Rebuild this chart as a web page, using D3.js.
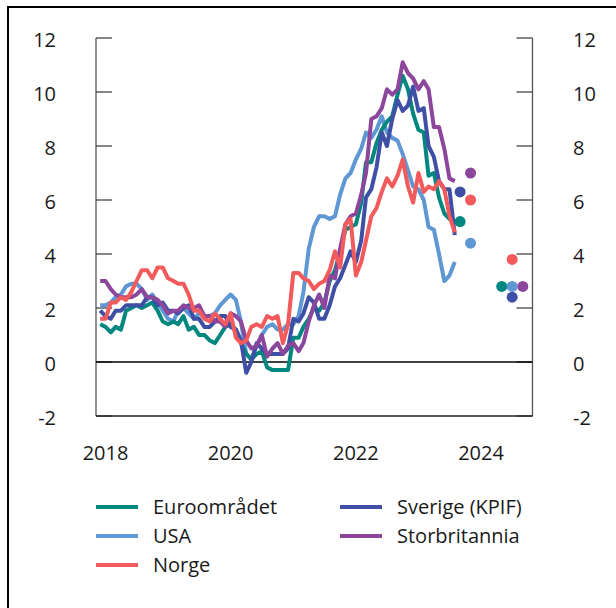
<!DOCTYPE html>
<html>
<head>
<meta charset="utf-8">
<script src="https://cdn.jsdelivr.net/npm/d3@7"></script>
<style>
  html, body { margin: 0; padding: 0; background: #fff; }
  svg text { font-family: "Open Sans", "Noto Sans", sans-serif; fill: #1a1a1a; }
</style>
</head>
<body>
<div id="chart"></div>
<script>
// monthly series, first value = Dec 2017, last = Aug 2023
var start = [2017, 11];
var euro = [1.4,
  1.3,1.1,1.3,1.2,1.9,2.0,2.1,2.0,2.1,2.2,1.9,1.5,
  1.4,1.5,1.4,1.7,1.2,1.3,1.0,1.0,0.8,0.7,1.0,1.3,
  1.4,1.2,0.7,0.3,0.1,0.3,0.4,-0.2,-0.3,-0.3,-0.3,-0.3,
  0.9,0.9,1.3,1.6,2.0,1.9,2.2,3.0,3.4,4.1,4.9,5.0,
  5.1,5.9,7.4,7.4,8.1,8.6,8.9,9.1,9.9,10.6,10.1,9.2,
  8.6,8.5,6.9,7.0,6.1,5.5,5.3,5.2];
var usa = [2.1,
  2.1,2.2,2.4,2.5,2.8,2.9,2.9,2.7,2.3,2.5,2.2,1.9,
  1.6,1.5,1.9,2.0,1.8,1.6,1.8,1.7,1.7,1.8,2.1,2.3,
  2.5,2.3,1.5,0.3,0.1,0.6,1.0,1.3,1.4,1.2,1.2,1.4,
  1.4,1.7,2.6,4.2,5.0,5.4,5.4,5.3,5.4,6.2,6.8,7.0,
  7.5,7.9,8.5,8.3,8.6,9.1,8.5,8.3,8.2,7.7,7.1,6.5,
  6.4,6.0,5.0,4.9,4.0,3.0,3.2,3.7];
var norge = [1.6,
  1.6,2.2,2.2,2.4,2.3,2.6,3.0,3.4,3.4,3.1,3.5,3.5,
  3.1,3.0,2.9,2.9,2.5,1.9,1.9,1.6,1.5,1.8,1.6,1.4,
  1.8,0.9,0.7,0.8,1.3,1.4,1.3,1.7,1.6,1.7,0.7,1.4,
  3.3,3.3,3.1,3.0,2.7,2.9,3.0,3.4,4.1,3.5,5.1,5.3,
  3.2,3.7,4.5,5.4,5.7,6.3,6.8,6.5,6.9,7.5,6.5,5.9,
  7.0,6.3,6.5,6.4,6.7,6.4,5.4,4.8];
var sverige = [1.9,
  1.7,1.6,1.9,1.9,2.1,2.1,2.1,2.1,2.4,2.4,2.1,2.2,
  1.9,1.9,1.8,2.0,2.1,1.6,1.6,1.3,1.3,1.5,1.7,1.7,
  1.3,1.2,0.8,-0.4,0.0,0.7,0.5,0.3,0.3,0.3,0.3,0.5,
  1.6,1.5,1.8,2.4,2.2,1.6,1.6,2.1,2.8,3.1,3.6,4.1,
  3.7,4.5,6.1,6.4,7.2,8.5,8.0,9.0,9.7,9.3,9.5,10.2,
  9.3,9.4,8.0,7.6,6.7,6.4,6.4,4.7];
var storbritannia = [3.0,
  3.0,2.7,2.5,2.4,2.4,2.4,2.5,2.7,2.4,2.4,2.3,2.1,
  1.8,1.9,1.9,2.1,2.0,2.0,2.1,1.7,1.7,1.5,1.5,1.3,
  1.8,1.7,1.5,0.8,0.5,0.6,1.0,0.2,0.5,0.7,0.3,0.6,
  0.7,0.4,0.7,1.5,2.1,2.5,2.0,3.2,3.1,4.2,5.1,5.4,
  5.5,6.2,7.0,9.0,9.1,9.4,10.1,9.9,10.1,11.1,10.7,10.5,
  10.1,10.4,10.1,8.7,8.7,7.9,6.8,6.7];

var names = ["Euroområdet", "USA", "Norge", "Sverige (KPIF)", "Storbritannia"];
var colors = ["#00877f", "#5e97d3", "#f25a5c", "#3f4fa6", "#8c479c"];

// projections: [series index, value, month the dot is placed at]
var dots2023 = [[0, 5.2, "2023-09"], [3, 6.3, "2023-09"], [1, 4.4, "2023-11"], [2, 6.0, "2023-11"], [4, 7.0, "2023-11"]];
var dots2024 = [[0, 2.8, "2024-05"], [1, 2.8, "2024-07"], [2, 3.8, "2024-07"], [3, 2.4, "2024-07"], [4, 2.8, "2024-09"]];

var yTicks = [-2, 0, 2, 4, 6, 8, 10, 12];
var xYears = [2018, 2020, 2022, 2024];

(function(){
var W = 616, H = 608;
var pLeft = 96, pRight = 532.5, pTop = 38, pBottom = 416;

var svg = d3.select("#chart").append("svg").attr("width", W).attr("height", H);

// frame
svg.append("rect").attr("x", 8).attr("y", 7).attr("width", W).attr("height", H)
  .attr("fill", "none").attr("stroke", "#000").attr("stroke-width", 2);

var x = d3.scaleTime()
  .domain([new Date(2018, 0, 1), new Date(2024, 0, 1)])
  .range([105.5, 481]);
var y = d3.scaleLinear().domain([-2, 12]).range([pBottom, pTop]);

// axes
var g = svg.append("g");
g.append("line").attr("x1", pLeft).attr("x2", pLeft).attr("y1", pTop).attr("y2", pBottom)
  .attr("stroke", "#555").attr("stroke-width", 1.3);
g.append("line").attr("x1", pRight).attr("x2", pRight).attr("y1", pTop).attr("y2", pBottom)
  .attr("stroke", "#555").attr("stroke-width", 1.3);

yTicks.forEach(function(t){
  g.append("line").attr("x1", pLeft).attr("x2", pLeft + 16).attr("y1", y(t)).attr("y2", y(t))
    .attr("stroke", "#444").attr("stroke-width", 1.3);
  g.append("line").attr("x1", pRight - 16).attr("x2", pRight).attr("y1", y(t)).attr("y2", y(t))
    .attr("stroke", "#444").attr("stroke-width", 1.3);
  g.append("text").attr("x", 56).attr("y", y(t) + 2).attr("dy", "0.35em")
    .attr("text-anchor", "end").attr("font-size", 20).text(t);
  g.append("text").attr("x", 573).attr("y", y(t) + 2).attr("dy", "0.35em")
    .attr("text-anchor", "start").attr("font-size", 20).text(t);
});

// zero line and bottom line
g.append("line").attr("x1", pLeft).attr("x2", pRight).attr("y1", y(0)).attr("y2", y(0))
  .attr("stroke", "#000").attr("stroke-width", 1.3);
g.append("line").attr("x1", pLeft).attr("x2", pRight).attr("y1", y(-2)).attr("y2", y(-2))
  .attr("stroke", "#222").attr("stroke-width", 1.3);

xYears.forEach(function(yr){
  g.append("text").attr("x", x(new Date(yr, 0, 1))).attr("y", 453).attr("dy", "0.35em")
    .attr("text-anchor", "middle").attr("font-size", 20).text(yr);
});

// lines
var series = [euro, usa, norge, sverige, storbritannia];
var line = d3.line()
  .x(function(d, i){ return x(new Date(start[0], start[1] + i, 1)); })
  .y(function(d){ return y(d); });

var order = [1, 0, 3, 4, 2];
order.forEach(function(k){
  svg.append("path").datum(series[k]).attr("d", line)
    .attr("fill", "none").attr("stroke", colors[k]).attr("stroke-width", 4)
    .attr("stroke-linejoin", "round");
});

// projection dots
function parseMonth(s){ var p = s.split("-"); return new Date(+p[0], +p[1] - 1, 1); }
svg.selectAll(".dot").data(dots2023.concat(dots2024)).enter().append("circle")
  .attr("cx", function(d){ return x(parseMonth(d[2])); })
  .attr("cy", function(d){ return y(d[1]); })
  .attr("r", 5.5)
  .attr("fill", function(d){ return colors[d[0]]; });

// legend
var legPos = [[96, 507], [96, 536], [96, 565], [340, 507], [340, 536]];
names.forEach(function(n, i){
  var p = legPos[i];
  svg.append("line").attr("x1", p[0]).attr("x2", p[0] + 42).attr("y1", p[1]).attr("y2", p[1])
    .attr("stroke", colors[i]).attr("stroke-width", 4);
  svg.append("text").attr("x", p[0] + 57).attr("y", p[1]).attr("dy", "0.35em")
    .attr("font-size", 20).text(n);
});
})();
</script>
</body>
</html>
